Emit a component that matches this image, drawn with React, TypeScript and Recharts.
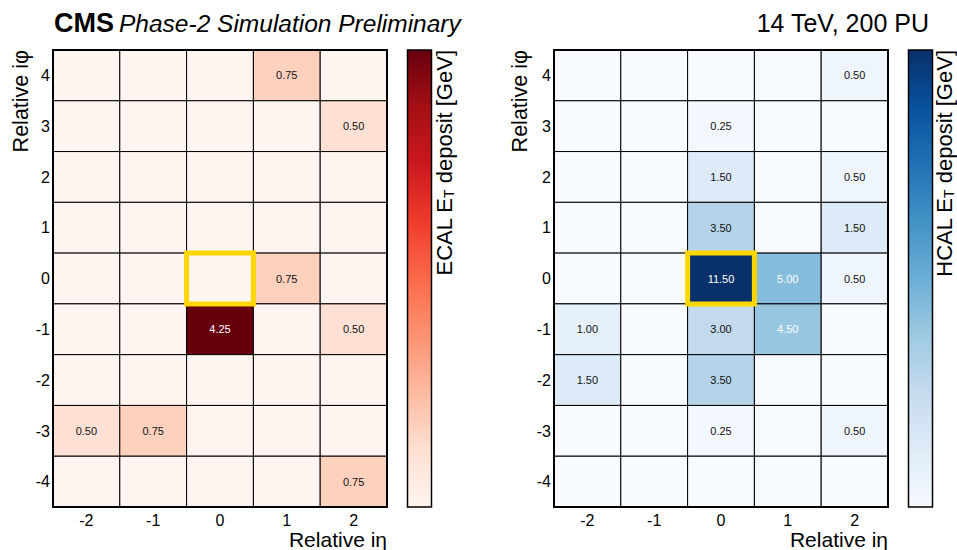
import React from 'react';
import { ScatterChart, Scatter, XAxis, YAxis, ReferenceArea } from 'recharts';

const ETA_TICKS = [-2, -1, 0, 1, 2];
const PHI_TICKS = [4, 3, 2, 1, 0, -1, -2, -3, -4];

// rows: phi 4 .. -4 ; columns: eta -2 .. 2
const ECAL = [
  [0, 0, 0, 0.75, 0],
  [0, 0, 0, 0, 0.5],
  [0, 0, 0, 0, 0],
  [0, 0, 0, 0, 0],
  [0, 0, 0, 0.75, 0],
  [0, 0, 4.25, 0, 0.5],
  [0, 0, 0, 0, 0],
  [0.5, 0.75, 0, 0, 0],
  [0, 0, 0, 0, 0.75],
];

const HCAL = [
  [0, 0, 0, 0, 0.5],
  [0, 0, 0.25, 0, 0],
  [0, 0, 1.5, 0, 0.5],
  [0, 0, 3.5, 0, 1.5],
  [0, 0, 11.5, 5.0, 0.5],
  [1.0, 0, 3.0, 4.5, 0],
  [1.5, 0, 3.5, 0, 0],
  [0, 0, 0.25, 0, 0.5],
  [0, 0, 0, 0, 0],
];

const REDS = ['#fff5f0', '#fee0d2', '#fcbba1', '#fc9272', '#fb6a4a', '#ef3b2c', '#cb181d', '#a50f15', '#67000d'];
const BLUES = ['#f7fbff', '#deebf7', '#c6dbef', '#9ecae1', '#6baed6', '#4292c6', '#2171b5', '#08519c', '#08306b'];

const FONT = '"Liberation Sans", Arial, Helvetica, sans-serif';

function hexToRgb(h: string) {
  const n = parseInt(h.slice(1), 16);
  return [(n >> 16) & 255, (n >> 8) & 255, n & 255];
}

function cmap(stops: string[], t: number) {
  const tt = Math.max(0, Math.min(1, t));
  const n = stops.length - 1;
  const p = tt * n;
  const i = Math.min(Math.floor(p), n - 1);
  const f = p - i;
  const a = hexToRgb(stops[i]);
  const b = hexToRgb(stops[i + 1]);
  const c = a.map((v, k) => Math.round(v + (b[k] - v) * f));
  return `rgb(${c[0]},${c[1]},${c[2]})`;
}

function buildCells(grid: number[][]) {
  return PHI_TICKS.flatMap((phi, i) => ETA_TICKS.map((eta, j) => ({ eta, phi, v: grid[i][j] })));
}

const ECAL_CELLS = buildCells(ECAL);
const HCAL_CELLS = buildCells(HCAL);

function Panel({ cells, stops, left, marginLeft, marginRight }: any) {
  const vmax = Math.max(...cells.map((c: any) => c.v));
  const labeled = cells.filter((c: any) => c.v > 0);
  const tick = { fontSize: 16, fill: '#000', fontFamily: FONT };
  return (
    <div style={{ position: 'absolute', left, top: 0 }}>
      <ScatterChart width={400} height={550} margin={{ top: 50, right: marginRight, bottom: 13, left: marginLeft }}>
        <XAxis type="number" dataKey="eta" domain={[-2.5, 2.5]} ticks={ETA_TICKS} interval={0}
          axisLine={false} tickLine={false} tickSize={6} tickMargin={2} height={30} tick={tick} />
        <YAxis type="number" dataKey="phi" domain={[-4.5, 4.5]} ticks={PHI_TICKS} interval={0}
          axisLine={false} tickLine={false} tickSize={3} tickMargin={0} width={30} tick={tick} />
        {cells.map((c: any) => (
          <ReferenceArea key={`${c.eta}_${c.phi}`} x1={c.eta - 0.5} x2={c.eta + 0.5} y1={c.phi - 0.5} y2={c.phi + 0.5}
            fill={cmap(stops, c.v / vmax)} fillOpacity={1} stroke="#000" strokeWidth={1} />
        ))}
        <ReferenceArea x1={-2.5} x2={2.5} y1={-4.5} y2={4.5} fill="none" stroke="#000" strokeWidth={2} />
        <ReferenceArea x1={-0.5} x2={0.5} y1={-0.5} y2={0.5} fill="none" fillOpacity={0} stroke="#FFD700" strokeWidth={5} />
        <Scatter data={labeled} isAnimationActive={false}
          shape={(p: any) => (
            <text x={p.cx} y={p.cy} textAnchor="middle" dominantBaseline="central" fontSize={11}
              fontFamily={FONT} fill={p.payload.v / vmax > 0.35 ? '#fff' : '#111'}>
              {p.payload.v.toFixed(2)}
            </text>
          )} />
      </ScatterChart>
    </div>
  );
}

function Colorbar({ id, stops, x, label, labelX }: any) {
  return (
    <g>
      <defs>
        <linearGradient id={id} x1="0" y1="1" x2="0" y2="0">
          {stops.map((s: string, i: number) => (
            <stop key={i} offset={i / (stops.length - 1)} stopColor={s} />
          ))}
        </linearGradient>
      </defs>
      <rect x={x} y={50} width={24} height={457} fill={`url(#${id})`} stroke="#000" strokeWidth={1.5} />
      <text transform={`translate(${labelX},50) rotate(-90)`} textAnchor="end" fontSize={22} fontFamily={FONT} fill="#000">
        {label} E<tspan fontSize={14} dy={2}>T</tspan><tspan dy={-2}> deposit [GeV]</tspan>
      </text>
    </g>
  );
}

export default function App() {
  return (
    <div style={{ position: 'absolute', left: 0, top: 0, width: 957, height: 550, background: '#fff', fontFamily: FONT }}>
      <Panel cells={ECAL_CELLS} stops={REDS} left={0} marginLeft={23} marginRight={13} />
      <Panel cells={HCAL_CELLS} stops={BLUES} left={500} marginLeft={24} marginRight={12} />
      <svg width={957} height={550} style={{ position: 'absolute', left: 0, top: 0, pointerEvents: 'none' }}>
        <text x={54} y={32} fontSize={27} fontWeight="bold" fontFamily={FONT} fill="#000">CMS</text>
        <text x={119} y={32} fontSize={24.5} fontStyle="italic" fontFamily={FONT} fill="#000">Phase-2 Simulation Preliminary</text>
        <text x={929} y={32} fontSize={25} textAnchor="end" fontFamily={FONT} fill="#000">14 TeV, 200 PU</text>

        <text transform="translate(28,50) rotate(-90)" textAnchor="end" fontSize={21.5} fontFamily={FONT} fill="#000">Relative iφ</text>
        <text transform="translate(527,50) rotate(-90)" textAnchor="end" fontSize={21.5} fontFamily={FONT} fill="#000">Relative iφ</text>
        <text x={387} y={547} textAnchor="end" fontSize={21} fontFamily={FONT} fill="#000">Relative iη</text>
        <text x={888} y={547} textAnchor="end" fontSize={21} fontFamily={FONT} fill="#000">Relative iη</text>

        <Colorbar id="gradReds" stops={REDS} x={407.5} label="ECAL" labelX={452} />
        <Colorbar id="gradBlues" stops={BLUES} x={908.5} label="HCAL" labelX={952} />
      </svg>
    </div>
  );
}
